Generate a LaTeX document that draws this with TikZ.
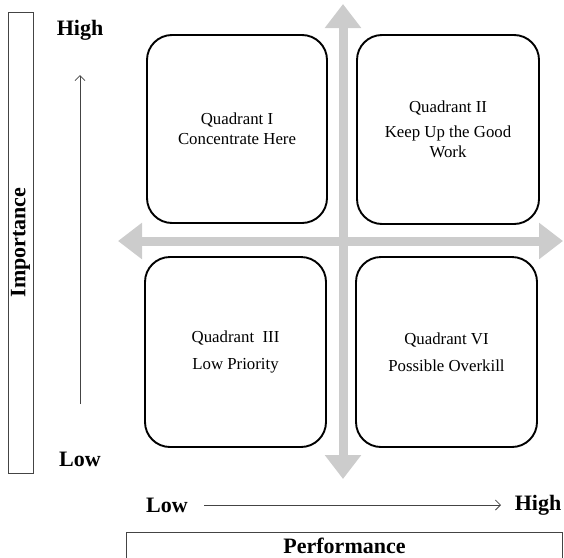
\documentclass[tikz,border=0pt]{standalone}
\usepackage{fontspec}
\setmainfont{Liberation Serif}
\usetikzlibrary{arrows.meta}
\definecolor{axisgray}{HTML}{CCCCCC}
\definecolor{thinline}{HTML}{444444}
\begin{document}
\begin{tikzpicture}[x=1pt,y=-1pt,
  quad/.style={draw=black, line width=1.9pt, rounded corners=25pt, align=center,
    font=\fontsize{16.8}{20}\selectfont, inner sep=0pt},
  biglabel/.style={font=\fontsize{22}{25}\selectfont\bfseries, inner sep=0pt},
  sidebox/.style={draw=thinline, line width=0.8pt, inner sep=0pt},
  bigarrow/.style={draw=axisgray, line width=9pt, {Triangle[length=24pt,width=35pt]}-{Triangle[length=24pt,width=35pt]}},
  thinarrow/.style={draw=thinline, line width=0.8pt, -{Straight Barb[length=5pt,width=10pt]}}
]
\useasboundingbox (0,0) rectangle (564,557);
% gray axes
\coordinate (vt) at (343,4);
\coordinate (vb) at (343,479);
\coordinate (hl) at (118,241);
\coordinate (hr) at (563,241);
\draw[bigarrow] (vb) -- (vt);
\draw[bigarrow] (hl) -- (hr);
% quadrants
\node[quad, minimum width=180pt, minimum height=188pt] (q1) at (237,129)
  {Quadrant I\\Concentrate Here};
\node[quad, minimum width=182pt, minimum height=189pt] (q2) at (448,129.5)
  {Quadrant II\\[5pt]Keep Up the Good\\Work};
\node[quad, minimum width=181pt, minimum height=190pt] (q3) at (235.5,352)
  {Quadrant~~III\\[7pt]Low Priority};
\node[quad, minimum width=181pt, minimum height=190pt] (q4) at (446.5,352)
  {Quadrant VI\\[7pt]Possible Overkill};
% importance side
\node[sidebox, minimum width=25pt, minimum height=461pt] (impbox) at (20.5,242.5) {};
\node[biglabel, rotate=90] (imp) at (impbox.center) {Importance};
\node[biglabel] (ihigh) at (80,30) {High};
\node[biglabel] (ilow) at (80,459) {Low};
\coordinate (ia) at (80,404);
\coordinate (ib) at (80,75);
\draw[thinarrow] (ia) -- (ib);
% performance side
\node[biglabel] (plow) at (167,505) {Low};
\node[biglabel] (phigh) at (538,505) {High};
\coordinate (pa) at (204,505);
\coordinate (pb) at (501,505);
\draw[thinarrow] (pa) -- (pb);
\node[sidebox, minimum width=436pt, minimum height=30pt] (perfbox) at (344.5,547) {};
\node[biglabel] (perf) at (344.5,546) {Performance};
\end{tikzpicture}
\end{document}
